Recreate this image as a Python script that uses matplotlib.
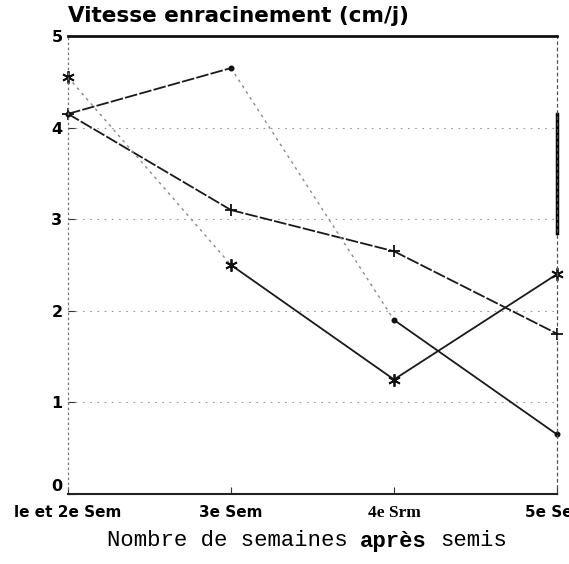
import matplotlib.pyplot as plt

# root growth speed per week after sowing
semaines = ["le et 2e Sem", "3e Sem", "4e Srm", "5e Sem"]
serie_croix = [4.15, 3.1, 2.65, 1.75]
serie_etoile = [4.55, 2.5, 1.25, 2.4]
serie_point = [4.15, 4.65, 1.9, 0.65]

# style per segment: dark trace or faded scanned trace
fonce = dict(color="#1a1a1a", lw=1.3, ls=(0, (7, 1.2)))
plein = dict(color="#1a1a1a", lw=1.3, ls="-")
pale = dict(color="#8a8a8a", lw=1.0, ls=(0, (2, 3)))

styles = {
    "croix": [fonce, fonce, fonce],
    "etoile": [pale, plein, plein],
    "point": [fonce, pale, plein],
}

fig = plt.figure(figsize=(5.69, 5.64), dpi=100)
ax = fig.add_axes([68 / 569, 1 - 494 / 564, (557 - 68) / 569, (494 - 36) / 564])

x = list(range(len(semaines)))

def trace(vals, segs, marker, ms):
    for i in range(len(vals) - 1):
        ax.plot(x[i:i + 2], vals[i:i + 2], **segs[i])
    ax.plot(x, vals, ls="none", marker=marker, ms=ms, color="#111111", mew=1.3,
            clip_on=False)

trace(serie_croix, styles["croix"], "+", 9)
trace(serie_etoile, styles["etoile"], (6, 2, 0), 9)
trace(serie_point, styles["point"], "o", 3)

ax.set_xlim(0, 3)
ax.set_ylim(0, 5)
ax.set_xticks(x)
ax.set_xticklabels(semaines, fontsize=11, fontweight="bold", family="DejaVu Sans")
ax.get_xticklabels()[2].set_family("Liberation Serif")
ax.get_xticklabels()[2].set_fontsize(12.5)
ax.set_yticks([0, 1, 2, 3, 4, 5])
ax.set_yticklabels(["0", "1", "2", "3", "4", "5"], fontsize=11.5, fontweight="bold")
ax.tick_params(direction="in", length=5, width=0.8, color="#333333", pad=4)
ax.tick_params(axis="x", pad=8)
ax.get_yticklabels()[0].set_va("bottom")

for v in [1, 2, 3, 4]:
    ax.axhline(v, color="#9a9a9a", lw=0.8, ls=(0, (1.5, 5)), zorder=0)

ax.spines["top"].set_color("#111111")
ax.spines["top"].set_linewidth(2.0)
ax.spines["bottom"].set_color("#222222")
ax.spines["bottom"].set_linewidth(1.5)
ax.spines["bottom"].set_linestyle((0, (8, 1)))
ax.spines["left"].set_color("#777777")
ax.spines["left"].set_linewidth(0.9)
ax.spines["left"].set_linestyle((0, (1, 3)))
ax.spines["right"].set_color("#555555")
ax.spines["right"].set_linewidth(0.9)
ax.spines["right"].set_linestyle((0, (2, 3)))
ax.axvline(3, ymin=2.85 / 5, ymax=4.15 / 5, color="#000000", lw=2.5, clip_on=False)

fig.text(68 / 569, 1 - 16 / 564, "Vitesse enracinement (cm/j)", fontsize=15.5,
         fontweight="bold", ha="left", va="center")

# axis label in typewriter font, "après" in bold, placed word by word
xl = 107 / 569
yl = 1 - 541 / 564
larg = 16 * 100 / 72 * 0.6 / 569
for debut, mot, gras in [(0, "Nombre de semaines", False), (19, "après", True),
                         (25, "semis", False)]:
    fig.text(xl + debut * larg, yl, mot, family="Liberation Mono", fontsize=16,
             fontweight="bold" if gras else "normal", ha="left", va="center")

fig.savefig("out.png", dpi=100)
